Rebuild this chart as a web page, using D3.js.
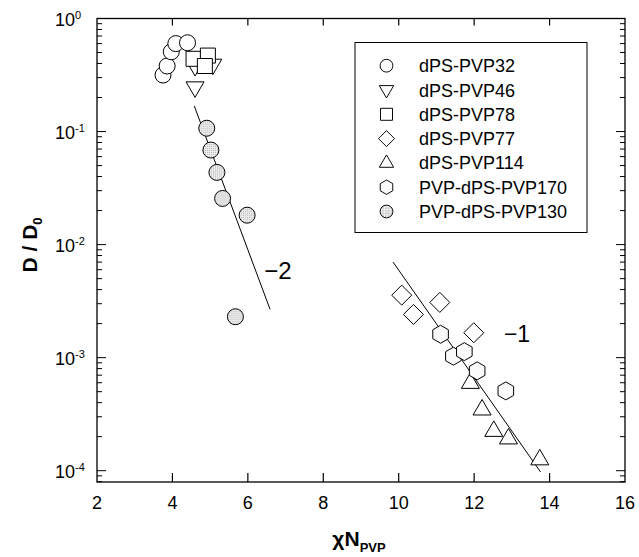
<!DOCTYPE html>
<html>
<head>
<meta charset="utf-8">
<script src="https://cdn.jsdelivr.net/npm/d3@7"></script>
<style>
  html, body { margin: 0; padding: 0; background: #fff; }
  svg { display: block; font-family: "Liberation Sans", Arial, sans-serif; }
</style>
</head>
<body>
<div id="chart"></div>
<script>
// ── Data ───────────────────────────────────────────────────────────────────────
const pvp32   = [[3.75, 0.316], [3.86, 0.38], [3.97, 0.508], [4.09, 0.60], [4.40, 0.61]];
const pvp46   = [[4.60, 0.38], [5.07, 0.39], [4.60, 0.246]];
const pvp78   = [[4.56, 0.44], [4.94, 0.47], [4.86, 0.38]];
const pvp77   = [[10.08, 0.00357], [10.39, 0.00241], [11.09, 0.00308], [11.99, 0.00166]];
const pvp114  = [[11.90, 5.98e-4], [12.21, 3.48e-4], [12.52, 2.25e-4], [12.91, 1.93e-4], [13.74, 1.26e-4]];
const pvp170  = [[11.11, 1.61e-3], [11.45, 1.03e-3], [11.74, 1.13e-3], [12.08, 7.64e-4], [12.84, 5.08e-4]];
const pvp130  = [[4.91, 0.107], [5.02, 0.0686], [5.18, 0.0435], [5.33, 0.0256], [5.98, 0.0182], [5.67, 0.0023]];

const fitMinus2 = [[4.58, 0.168], [6.59, 0.00267]];
const fitMinus1 = [[9.85, 0.0070], [13.76, 9.75e-5]];

const xTicks = [2, 4, 6, 8, 10, 12, 14, 16];
const yExponents = [0, -1, -2, -3, -4];

const legendLabels = ["dPS-PVP32", "dPS-PVP46", "dPS-PVP78", "dPS-PVP77",
                      "dPS-PVP114", "PVP-dPS-PVP170", "PVP-dPS-PVP130"];

// ── Setup ──────────────────────────────────────────────────────────────────────
const W = 639, H = 557;
const svg = d3.select("#chart").append("svg").attr("width", W).attr("height", H);

// light stippled grey, like the halftone fill in the print
const defs = svg.append("defs");
const pat = defs.append("pattern").attr("id", "dots")
    .attr("patternUnits", "userSpaceOnUse").attr("width", 2).attr("height", 2);
pat.append("rect").attr("width", 2).attr("height", 2).attr("fill", "#eeeeee");
pat.append("rect").attr("width", 1).attr("height", 1).attr("fill", "#b4b4b4");

const x = d3.scaleLinear().domain([2, 16]).range([97, 625]);
const y = d3.scaleLog().domain([Math.pow(10, -4.1), 1]).range([482, 18.5]);

// ── Marker shapes ──────────────────────────────────────────────────────────────
function shapePath(kind) {
    const p = d3.path();
    if (kind === "circle") {
        p.arc(0, 0, 8, 0, 2 * Math.PI);
    } else if (kind === "down") {
        p.moveTo(-9, -5.5); p.lineTo(9, -5.5); p.lineTo(0, 10); p.closePath();
    } else if (kind === "up") {
        p.moveTo(-9, 5.5); p.lineTo(9, 5.5); p.lineTo(0, -10); p.closePath();
    } else if (kind === "square") {
        p.rect(-7.5, -7.5, 15, 15);
    } else if (kind === "diamond") {
        p.moveTo(0, -10); p.lineTo(10, 0); p.lineTo(0, 10); p.lineTo(-10, 0); p.closePath();
    } else if (kind === "hex") {
        for (let k = 0; k < 6; k++) {
            const a = Math.PI / 2 + k * Math.PI / 3;
            const px = 9 * Math.cos(a), py = -9 * Math.sin(a);
            k === 0 ? p.moveTo(px, py) : p.lineTo(px, py);
        }
        p.closePath();
    }
    return p.toString();
}

const series = [
    { data: pvp32,  kind: "circle",  fill: "#fff" },
    { data: pvp46,  kind: "down",    fill: "#fff" },
    { data: pvp78,  kind: "square",  fill: "#fff" },
    { data: pvp77,  kind: "diamond", fill: "#fff" },
    { data: pvp114, kind: "up",      fill: "#fff" },
    { data: pvp170, kind: "hex",     fill: "#fafafa" },
    { data: pvp130, kind: "circle",  fill: "url(#dots)" }
];

// ── Frame & axes ───────────────────────────────────────────────────────────────
const [x0, x1] = x.range();
const [yb, yt] = y.range();

const axisG = svg.append("g").attr("stroke", "#000").attr("fill", "none");
axisG.append("rect").attr("x", x0).attr("y", yt).attr("width", x1 - x0).attr("height", yb - yt)
    .attr("stroke-width", 1.3);

// x ticks (bottom and top, pointing inward)
xTicks.slice(1, -1).forEach(v => {
    axisG.append("line").attr("x1", x(v)).attr("x2", x(v)).attr("y1", yb).attr("y2", yb - 9).attr("stroke-width", 1.2);
    axisG.append("line").attr("x1", x(v)).attr("x2", x(v)).attr("y1", yt).attr("y2", yt + 7).attr("stroke-width", 1.2);
});

// y ticks, log decades with minor ticks
y.ticks().forEach(v => {
    const isMajor = Math.abs(Math.log10(v) - Math.round(Math.log10(v))) < 1e-9;
    const len = isMajor ? 9 : 5;
    axisG.append("line").attr("x1", x0).attr("x2", x0 + len).attr("y1", y(v)).attr("y2", y(v)).attr("stroke-width", 1);
    axisG.append("line").attr("x1", x1).attr("x2", x1 - len).attr("y1", y(v)).attr("y2", y(v)).attr("stroke-width", 1);
});

// tick labels
svg.append("g").selectAll("text").data(xTicks).join("text")
    .attr("x", d => x(d)).attr("y", 509)
    .attr("text-anchor", "middle").attr("font-size", 18).text(d => d);

const yLab = svg.append("g").selectAll("text").data(yExponents).join("text")
    .attr("x", 55).attr("y", d => y(Math.pow(10, d)) + 7.5)
    .attr("font-size", 18);
yLab.append("tspan").text("10");
yLab.append("tspan").attr("dy", -7).attr("font-size", 11).text(d => d === 0 ? "0" : "-" + Math.abs(d));

// axis titles
const yTitle = svg.append("text")
    .attr("transform", "translate(37,245) rotate(-90)")
    .attr("text-anchor", "middle").attr("font-size", 21).attr("font-weight", "bold");
yTitle.append("tspan").text("D / D");
yTitle.append("tspan").attr("dy", 5).attr("font-size", 13).text("0");

const xTitle = svg.append("text").attr("x", 359).attr("y", 546)
    .attr("text-anchor", "middle").attr("font-weight", "bold").attr("font-size", 21);
xTitle.append("tspan").text("χN");
xTitle.append("tspan").attr("dy", 6).attr("font-size", 13).text("PVP");

// ── Fit lines ──────────────────────────────────────────────────────────────────
const line = d3.line().x(d => x(d[0])).y(d => y(d[1]));
[fitMinus2, fitMinus1].forEach(f => {
    svg.append("path").attr("d", line(f)).attr("fill", "none").attr("stroke", "#000").attr("stroke-width", 1);
});
svg.append("text").attr("x", 278).attr("y", 279).attr("text-anchor", "middle")
    .attr("font-size", 24).text("\u22122");
svg.append("text").attr("x", 517).attr("y", 342).attr("text-anchor", "middle")
    .attr("font-size", 23).text("\u22121");

// ── Markers ────────────────────────────────────────────────────────────────────
series.forEach(s => {
    svg.append("g").selectAll("path").data(s.data).join("path")
        .attr("transform", d => `translate(${x(d[0])},${y(d[1])})`)
        .attr("d", shapePath(s.kind))
        .attr("fill", s.fill).attr("stroke", "#000").attr("stroke-width", 1);
});

// ── Legend ─────────────────────────────────────────────────────────────────────
const leg = svg.append("g");
leg.append("rect").attr("x", 355).attr("y", 42.5).attr("width", 232).attr("height", 190)
    .attr("fill", "#fff").attr("stroke", "#000").attr("stroke-width", 1);
series.forEach((s, i) => {
    const cy = 65.7 + i * 24.3;
    leg.append("path").attr("transform", `translate(386.5,${cy}) scale(0.8)`)
        .attr("d", shapePath(s.kind)).attr("fill", s.fill)
        .attr("stroke", "#000").attr("stroke-width", 1.2);
    leg.append("text").attr("x", 419).attr("y", cy + 6.5).attr("font-size", 18).text(legendLabels[i]);
});
</script>
</body>
</html>
